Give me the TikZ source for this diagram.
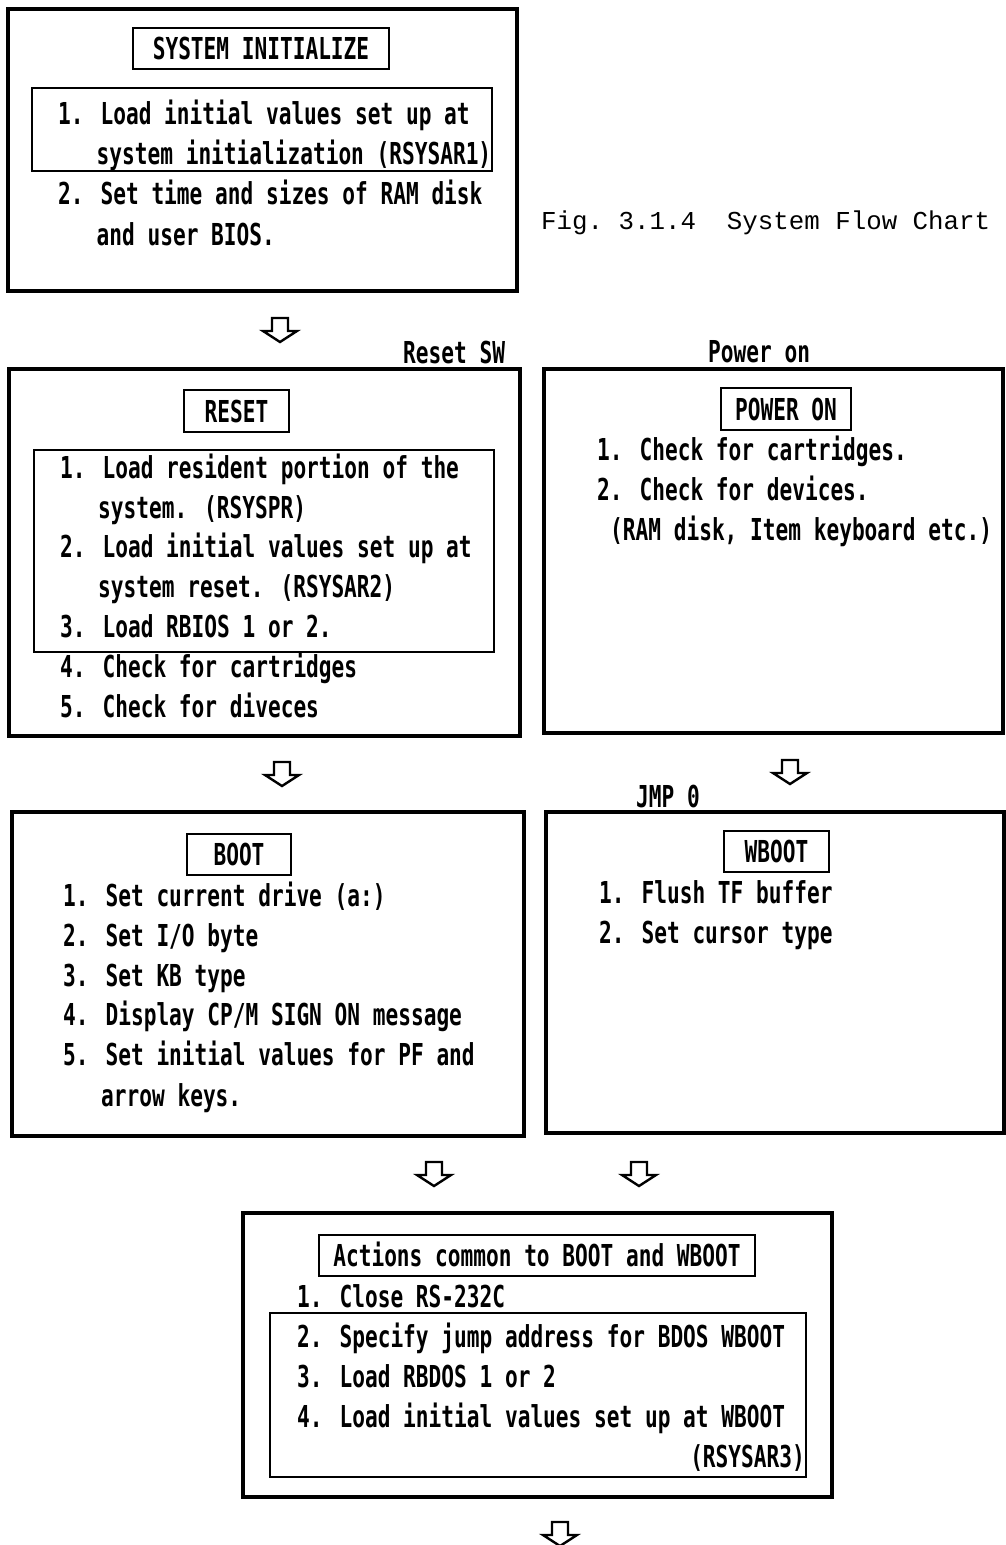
\documentclass[tikz,border=0pt]{standalone}
\usepackage{fontspec}
\newfontfamily\chartfont[FakeStretch=0.70]{DejaVu Sans Mono}
\newfontfamily\capfont{Liberation Mono}
\usetikzlibrary{fit}
\newcommand{\cfont}{\chartfont\bfseries\fontsize{30.2}{36}\selectfont}
\tikzset{
  outerbox/.style={draw, line width=4pt, inner sep=0pt},
  titlebox/.style={draw, line width=2.4pt, inner sep=0pt},
  titletext/.style={anchor=center, inner sep=0pt, text height=22pt, text depth=0pt, font=\cfont},
  innerbox/.style={draw, line width=1.3pt, inner sep=0pt},
  ln/.style={anchor=base west, inner sep=0pt, font=\cfont},
  lnr/.style={anchor=base east, inner sep=0pt, font=\cfont},
  figcaption/.style={anchor=base west, inner sep=0pt, font=\capfont\fontsize{25.8}{30}\selectfont},
  hollowarrow/.pic={
    \draw[line width=2.4pt, line join=miter]
      (-8,0) -- (8,0) -- (8,13) -- (17,13) -- (0,24) -- (-17,13) -- (-8,13) -- cycle;
  }
}
\begin{document}
\begin{tikzpicture}[x=1pt,y=-1pt]
\useasboundingbox (0,0) rectangle (1006,1545);

% SYSTEM INITIALIZE
\node[outerbox, fit={(8,9)(517,291)}] (sysinit) {};
\node[titlebox, fit={(133,28)(389,69)}] (sysinitT) {};
\node[titletext] (sysinitL) at (sysinitT.center) {SYSTEM INITIALIZE};
\node[innerbox, fit={(32,88)(492,171)}] (sysinitI) {};
\node[ln] (si1)  at (58,124)   {1. Load initial values set up at};
\node[ln] (si1b) at (96.5,164) {system initialization (RSYSAR1)};
\node[ln] (si2)  at (58,204)   {2. Set time and sizes of RAM disk};
\node[ln] (si2b) at (96.5,245) {and user BIOS.};

\node[figcaption] (fig) at (541,229) {Fig.~3.1.4~~System Flow Chart};

\pic at (280,318) {hollowarrow};

\node[ln] (rsw) at (403,363) {Reset SW};
\node[ln] (pon) at (708,362) {Power on};

% RESET
\node[outerbox, fit={(9,369)(520,736)}] (reset) {};
\node[titlebox, fit={(184,390)(289,432)}] (resetT) {};
\node[titletext] (resetL) at (resetT.center) {RESET};
\node[innerbox, fit={(34,450)(494,652)}] (resetI) {};
\node[ln] (r1)  at (60,478) {1. Load resident portion of the};
\node[ln] (r1b) at (98,518) {system. (RSYSPR)};
\node[ln] (r2)  at (60,557) {2. Load initial values set up at};
\node[ln] (r2b) at (98,597) {system reset. (RSYSAR2)};
\node[ln] (r3)  at (60,637) {3. Load RBIOS 1 or 2.};
\node[ln] (r4)  at (60,677) {4. Check for cartridges};
\node[ln] (r5)  at (60,717) {5. Check for diveces};

% POWER ON
\node[outerbox, fit={(544,369)(1003,733)}] (power) {};
\node[titlebox, fit={(721,388)(851,430)}] (powerT) {};
\node[titletext] (powerL) at (powerT.center) {POWER ON};
\node[ln] (p1)  at (597,460) {1. Check for cartridges.};
\node[ln] (p2)  at (597,500) {2. Check for devices.};
\node[ln] (p2b) at (610,540) {(RAM disk, Item keyboard etc.)};

\pic at (282,762) {hollowarrow};
\pic at (790,760) {hollowarrow};

\node[ln] (jmp) at (636,807) {JMP 0};

% BOOT
\node[outerbox, fit={(12,812)(524,1136)}] (boot) {};
\node[titlebox, fit={(187,834)(291,875)}] (bootT) {};
\node[titletext] (bootL) at (bootT.center) {BOOT};
\node[ln] (b1)  at (63,906)   {1. Set current drive (a:)};
\node[ln] (b2)  at (63,946)   {2. Set I/O byte};
\node[ln] (b3)  at (63,986)   {3. Set KB type};
\node[ln] (b4)  at (63,1025)  {4. Display CP/M SIGN ON message};
\node[ln] (b5)  at (63,1065)  {5. Set initial values for PF and};
\node[ln] (b5b) at (101,1106) {arrow keys.};

% WBOOT
\node[outerbox, fit={(546,812)(1004,1133)}] (wboot) {};
\node[titlebox, fit={(724,831)(829,872)}] (wbootT) {};
\node[titletext] (wbootL) at (wbootT.center) {WBOOT};
\node[ln] (w1) at (599,903) {1. Flush TF buffer};
\node[ln] (w2) at (599,943) {2. Set cursor type};

\pic at (434,1162) {hollowarrow};
\pic at (639,1162) {hollowarrow};

% COMMON
\node[outerbox, fit={(243,1213)(832,1497)}] (common) {};
\node[titlebox, fit={(319,1235)(755,1276)}] (commonT) {};
\node[titletext] (commonL) at (commonT.center) {Actions common to BOOT and WBOOT};
\node[ln] (c1) at (297,1307) {1. Close RS-232C};
\node[innerbox, fit={(270,1313)(806,1477)}] (commonI) {};
\node[ln] (c2) at (297,1347) {2. Specify jump address for BDOS WBOOT};
\node[ln] (c3) at (297,1387) {3. Load RBDOS 1 or 2};
\node[ln] (c4) at (297,1427) {4. Load initial values set up at WBOOT};
\node[lnr] (c4b) at (805,1467) {(RSYSAR3)};

\pic at (560,1522) {hollowarrow};
\end{tikzpicture}
\end{document}
